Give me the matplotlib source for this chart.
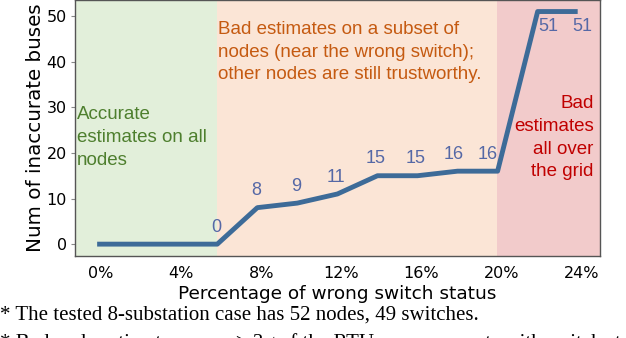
import matplotlib
matplotlib.use("Agg")
import matplotlib.pyplot as plt
from matplotlib.transforms import ScaledTranslation

pct = [0, 2, 4, 6, 8, 10, 12, 14, 16, 18, 20, 22, 24]
inaccurate = [0, 0, 0, 0, 8, 9, 11, 15, 15, 16, 16, 51, 51]
show_label = [False, False, False, True, True, True, True, True, True, True, True, True, True]
xticks = [0, 4, 8, 12, 16, 20, 24]
xticklabels = ["0%", "4%", "8%", "12%", "16%", "20%", "24%"]
yticks = [0, 10, 20, 30, 40, 50]
regions = [(-1.1, 6, "#e2efda"), (6, 19.95, "#fbe5d6"), (19.95, 25.1, "#f2cbcb")]

fig = plt.figure(figsize=(6.26, 3.38), dpi=100)
ax = fig.add_axes([0.12, 0.2426, 0.838, 0.757])
ax.set_xlim(-1.1, 25.1)
ax.set_ylim(-2.6, 53.5)

for x0, x1, c in regions:
    ax.axvspan(x0, x1, color=c, lw=0, zorder=0)

ax.plot(pct, inaccurate, color="#3d6b98", lw=3.5, zorder=3, solid_capstyle="butt")

lab_font = dict(family="Liberation Sans", fontsize=13, color="#5568a6")
special = {9: (-3, 6), 10: (-7, 6), 11: (8, -5), 12: (3, -5)}
for i, (x, y, s) in enumerate(zip(pct, inaccurate, show_label)):
    if not s:
        continue
    dx, dy = special.get(i, (-1, 6))
    ax.annotate(str(y), (x, y), xytext=(dx, dy), textcoords="offset points",
                ha="center", va="bottom" if dy > 0 else "top", zorder=4, **lab_font)

ax.text(-1.0, 30.2, "Accurate\nestimates on all\nnodes", family="Liberation Sans",
        fontsize=13.5, color="#4e7f2e", ha="left", va="top", linespacing=1.43)
ax.text(6.05, 48.9, "Bad estimates on a subset of\nnodes (near the wrong switch);\nother nodes are still trustworthy.",
        family="Liberation Sans", fontsize=13.5, color="#c55a11", ha="left", va="top", linespacing=1.43)
ax.text(24.8, 32.6, "Bad\nestimates\nall over\nthe grid", family="Liberation Sans",
        fontsize=13.5, color="#c00000", ha="right", va="top", linespacing=1.43)

ax.set_xticks(xticks)
ax.set_xticklabels(xticklabels)
ax.set_yticks(yticks)
ax.tick_params(axis="both", labelsize=11.5, length=3, color="#888888", pad=3)
ax.tick_params(axis="x", length=0, pad=7)
shift = ScaledTranslation(4 / 100, 0, fig.dpi_scale_trans)
for lbl in ax.get_xticklabels():
    lbl.set_transform(lbl.get_transform() + shift)
for sp in ax.spines.values():
    sp.set_color("#555555")
    sp.set_linewidth(1.0)

ax.set_xlabel("Percentage of wrong switch status", fontsize=13.3, labelpad=3)
ax.set_ylabel("Num of inaccurate buses", fontsize=14.3, labelpad=1)

fig.text(0.0, 0.056, "* The tested 8-substation case has 52 nodes, 49 switches.",
         family="Liberation Serif", fontsize=15, ha="left", va="baseline")
fig.text(0.0, -0.03, "* Bad node estimates: error > 3\u03c3 of the RTU measurements with switch status data",
         family="Liberation Serif", fontsize=15, ha="left", va="baseline")

fig.savefig("out.png", dpi=100)
